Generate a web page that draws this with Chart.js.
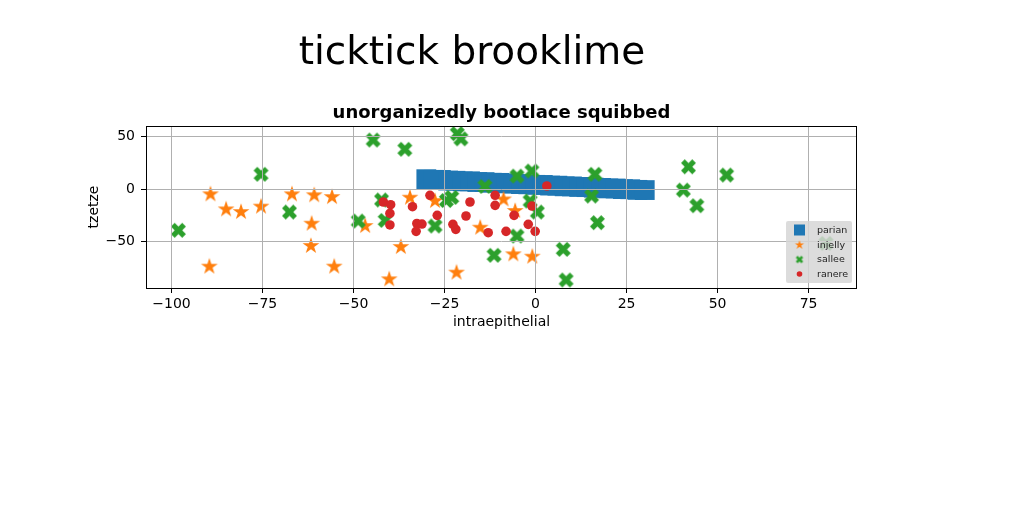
<!DOCTYPE html>
<html lang="en">
<head>
<meta charset="utf-8">
<title>ticktick brooklime</title>
<style>
  html, body { margin: 0; padding: 0; background: #fff; }
</style>
</head>
<body>
<canvas id="graph" width="1024" height="512"></canvas>

<script src="https://cdn.jsdelivr.net/npm/chart.js@4.4.0/dist/chart.umd.min.js"></script>
<script>
// titles and labels
var figTitle = 'ticktick brooklime';
var axTitle = 'unorganizedly bootlace squibbed';
var xLabel = 'intraepithelial';
var yLabel = 'tzetze';
var seriesNames = ['parian', 'injelly', 'sallee', 'ranere'];
var seriesColors = ['#1f77b4', '#ff7f0e', '#2ca02c', '#d62728'];
var xTicks = [-100, -75, -50, -25, 0, 25, 50, 75];
var yTicks = [-50, 0, 50];

// parian (dense band of squares)
var parianX = [-30, -28, -26, -24, -22, -20, -18, -16, -14, -12, -10, -8, -6, -4, -2, 0,
               2, 4, 6, 8, 10, 12, 14, 16, 18, 20, 22, 24, 26, 28, 30];
var parianY = [9.4, 8.8, 8.7, 8.1, 7.9, 7.3, 7.4, 6.7, 6.6, 6.0, 5.9, 5.4, 5.2, 4.7, 4.5, 4.0,
               3.9, 3.3, 3.2, 2.6, 2.5, 2.0, 1.8, 1.3, 1.1, 0.6, 0.5, -0.1, -0.2, -0.8, -1.0];

// injelly (stars)
var injellyX = [-89.3, -85, -80.9, -75.4, -66.9, -60.8, -55.9, -61.5, -61.7, -89.6, -55.3,
                -46.8, -34.5, -27.6, -37, -40.2, -21.7, -15.2, -8.8, -5.6, -6.1, -0.9];
var injellyY = [-5.1, -19.5, -22, -16.9, -5.1, -6, -7.7, -33.2, -54.5, -74.3, -74.3,
                -35.4, -8.3, -11.5, -55.5, -86.4, -80, -37, -10, -21, -62.5, -64.8];

// sallee (filled X)
var salleeX = [-98.1, -75.4, -67.6, -48.7, -44.6, -42.3, -41.3, -35.9, -27.6, -24.5, -23,
               -21.5, -20.5, -13.9, -11.4, -5.1, -5.1, -1, -1.5, 0.5, 7.6, 8.4, 16.3, 15.4,
               17, 40.6, 42, 44.3, 52.5, 79.8];
var salleeY = [-39.5, 14.1, -22, -30.6, 46.9, -10.5, -30, 38, -35.4, -11, -8,
               53, 48, 2.5, -63.4, 12.4, -45, 17.2, -11.5, -22, -57.7, -87, 14.1, -6.7,
               -32.2, -1, 21.3, -16, 13.4, -52];

// ranere (circles)
var ranereX = [-41.8, -39.8, -40, -40, -33.8, -32.6, -31.2, -32.8, -29, -27, -22.7, -21.9,
               -18, -19.1, -13, -11.1, -11.1, -8.1, -5.9, -2, -1, -0.1, 3.1];
var ranereY = [-12.4, -15, -23.3, -34.4, -16.9, -33, -33.5, -40.5, -6, -25.2, -33.8, -38.6,
               -12.4, -25.8, -41.8, -6, -15.6, -40.5, -25.2, -33.8, -16.3, -40.5, 2.9];

function pts(xs, ys) {
  return xs.map(function (x, i) { return {x: x, y: ys[i]}; });
}

// matplotlib-like filled markers as small canvases
function starCanvas(R, color) {
  var size = Math.ceil(2 * R + 2);
  var c = document.createElement('canvas');
  c.width = size; c.height = size;
  var g = c.getContext('2d');
  var cx = size / 2, cy = size / 2;
  g.beginPath();
  for (var i = 0; i < 10; i++) {
    var r = (i % 2) ? R * 0.381966 : R;
    var a = -Math.PI / 2 + i * Math.PI / 5;
    g.lineTo(cx + r * Math.cos(a), cy + r * Math.sin(a));
  }
  g.closePath();
  g.fillStyle = color;
  g.fill();
  return c;
}

function xCanvas(S, color) {
  var shape = [[-1,-2],[0,-1],[1,-2],[2,-1],[1,0],[2,1],[1,2],[0,1],[-1,2],[-2,1],[-1,0],[-2,-1]];
  var size = Math.ceil(S + 2);
  var c = document.createElement('canvas');
  c.width = size; c.height = size;
  var g = c.getContext('2d');
  g.beginPath();
  shape.forEach(function (p) { g.lineTo(size / 2 + p[0] * S / 4, size / 2 + p[1] * S / 4); });
  g.closePath();
  g.fillStyle = color;
  g.fill();
  return c;
}

var starImg = starCanvas(8.8, seriesColors[1]);
var xImg = xCanvas(15, seriesColors[2]);
var starSmall = starCanvas(4.8, seriesColors[1]);
var xSmall = xCanvas(7.5, seriesColors[2]);

function fmt(v) {
  return String(v).replace('-', '\u2212');
}

var tickFont = {family: 'DejaVu Sans', size: 14};

var decor = {
  id: 'decor',
  afterDraw: function (chart) {
    var ctx = chart.ctx, a = chart.chartArea;
    ctx.save();
    // frame
    ctx.strokeStyle = '#000';
    ctx.lineWidth = 1;
    ctx.strokeRect(Math.round(a.left) + 0.5, Math.round(a.top) + 0.5,
                   Math.round(a.right - a.left) - 1, Math.round(a.bottom - a.top));
    // titles
    ctx.fillStyle = '#000';
    ctx.textAlign = 'center';
    ctx.textBaseline = 'alphabetic';
    ctx.font = "39px 'Comic Sans MS', 'DejaVu Sans', sans-serif";
    ctx.fillText(figTitle, 472, 64);
    ctx.font = "bold 18px 'Comic Sans MS', 'DejaVu Sans', sans-serif";
    ctx.fillText(axTitle, (a.left + a.right) / 2, 118);

    // legend, lower right
    var lx = 786, ly = 221, lw = 66, lh = 62;
    ctx.fillStyle = 'rgba(214,214,214,0.85)';
    ctx.beginPath();
    ctx.roundRect(lx, ly, lw, lh, 2);
    ctx.fill();
    var rows = [230, 245, 259.5, 274];
    var mx = 799.5;
    ctx.font = '9.5px DejaVu Sans';
    ctx.textAlign = 'left';
    ctx.textBaseline = 'middle';
    seriesNames.forEach(function (name, i) {
      var y = rows[i];
      if (i === 0) {
        ctx.fillStyle = seriesColors[0];
        ctx.fillRect(mx - 5.5, y - 5.5, 11, 11);
      } else if (i === 1) {
        ctx.drawImage(starSmall, mx - starSmall.width / 2, y - starSmall.height / 2);
      } else if (i === 2) {
        ctx.drawImage(xSmall, mx - xSmall.width / 2, y - xSmall.height / 2);
      } else {
        ctx.fillStyle = seriesColors[3];
        ctx.beginPath();
        ctx.arc(mx, y, 2.8, 0, Math.PI * 2);
        ctx.fill();
      }
      ctx.fillStyle = '#222';
      ctx.fillText(name, 817, y + 0.5);
    });
    ctx.restore();
  }
};

var ctx = document.getElementById('graph').getContext('2d');
var chart = new Chart(ctx, {
  type: 'scatter',
  data: {
    datasets: [{
      label: seriesNames[0],
      data: pts(parianX, parianY),
      pointStyle: 'rect',
      pointRadius: 14,
      backgroundColor: seriesColors[0],
      borderWidth: 0,
      order: 3
    }, {
      label: seriesNames[1],
      data: pts(injellyX, injellyY),
      pointStyle: starImg,
      pointRadius: 9,
      backgroundColor: seriesColors[1],
      borderWidth: 0,
      order: 2
    }, {
      label: seriesNames[2],
      data: pts(salleeX, salleeY),
      pointStyle: xImg,
      pointRadius: 8,
      backgroundColor: seriesColors[2],
      borderWidth: 0,
      order: 1
    }, {
      label: seriesNames[3],
      data: pts(ranereX, ranereY),
      pointStyle: 'circle',
      pointRadius: 4.8,
      backgroundColor: seriesColors[3],
      borderWidth: 0,
      order: 0
    }]
  },
  options: {
    responsive: false,
    animation: false,
    layout: {padding: {left: 82, right: 167, top: 126, bottom: 177}},
    plugins: {
      legend: {display: false},
      tooltip: {enabled: false}
    },
    scales: {
      x: {
        type: 'linear',
        min: -107,
        max: 88.3,
        afterFit: function (s) { s.height = 47; },
        afterBuildTicks: function (s) { s.ticks = xTicks.map(function (v) { return {value: v}; }); },
        grid: {color: '#b0b0b0', lineWidth: 1, tickColor: '#000', tickLength: 5, z: 1},
        border: {display: false},
        ticks: {color: '#000', font: tickFont, padding: 3, autoSkip: false, maxRotation: 0,
                callback: function (v) { return fmt(v); }},
        title: {display: true, text: xLabel, color: '#000', font: tickFont}
      },
      y: {
        type: 'linear',
        min: -94.7,
        max: 60.3,
        afterFit: function (s) { s.width = 64; },
        afterBuildTicks: function (s) { s.ticks = yTicks.map(function (v) { return {value: v}; }); },
        grid: {color: '#b0b0b0', lineWidth: 1, tickColor: '#000', tickLength: 5, z: 1},
        border: {display: false},
        ticks: {color: '#000', font: tickFont, padding: 6, autoSkip: false,
                callback: function (v) { return fmt(v); }},
        title: {display: true, text: yLabel, color: '#000', font: tickFont}
      }
    }
  },
  plugins: [decor]
});
</script>
</body>
</html>
